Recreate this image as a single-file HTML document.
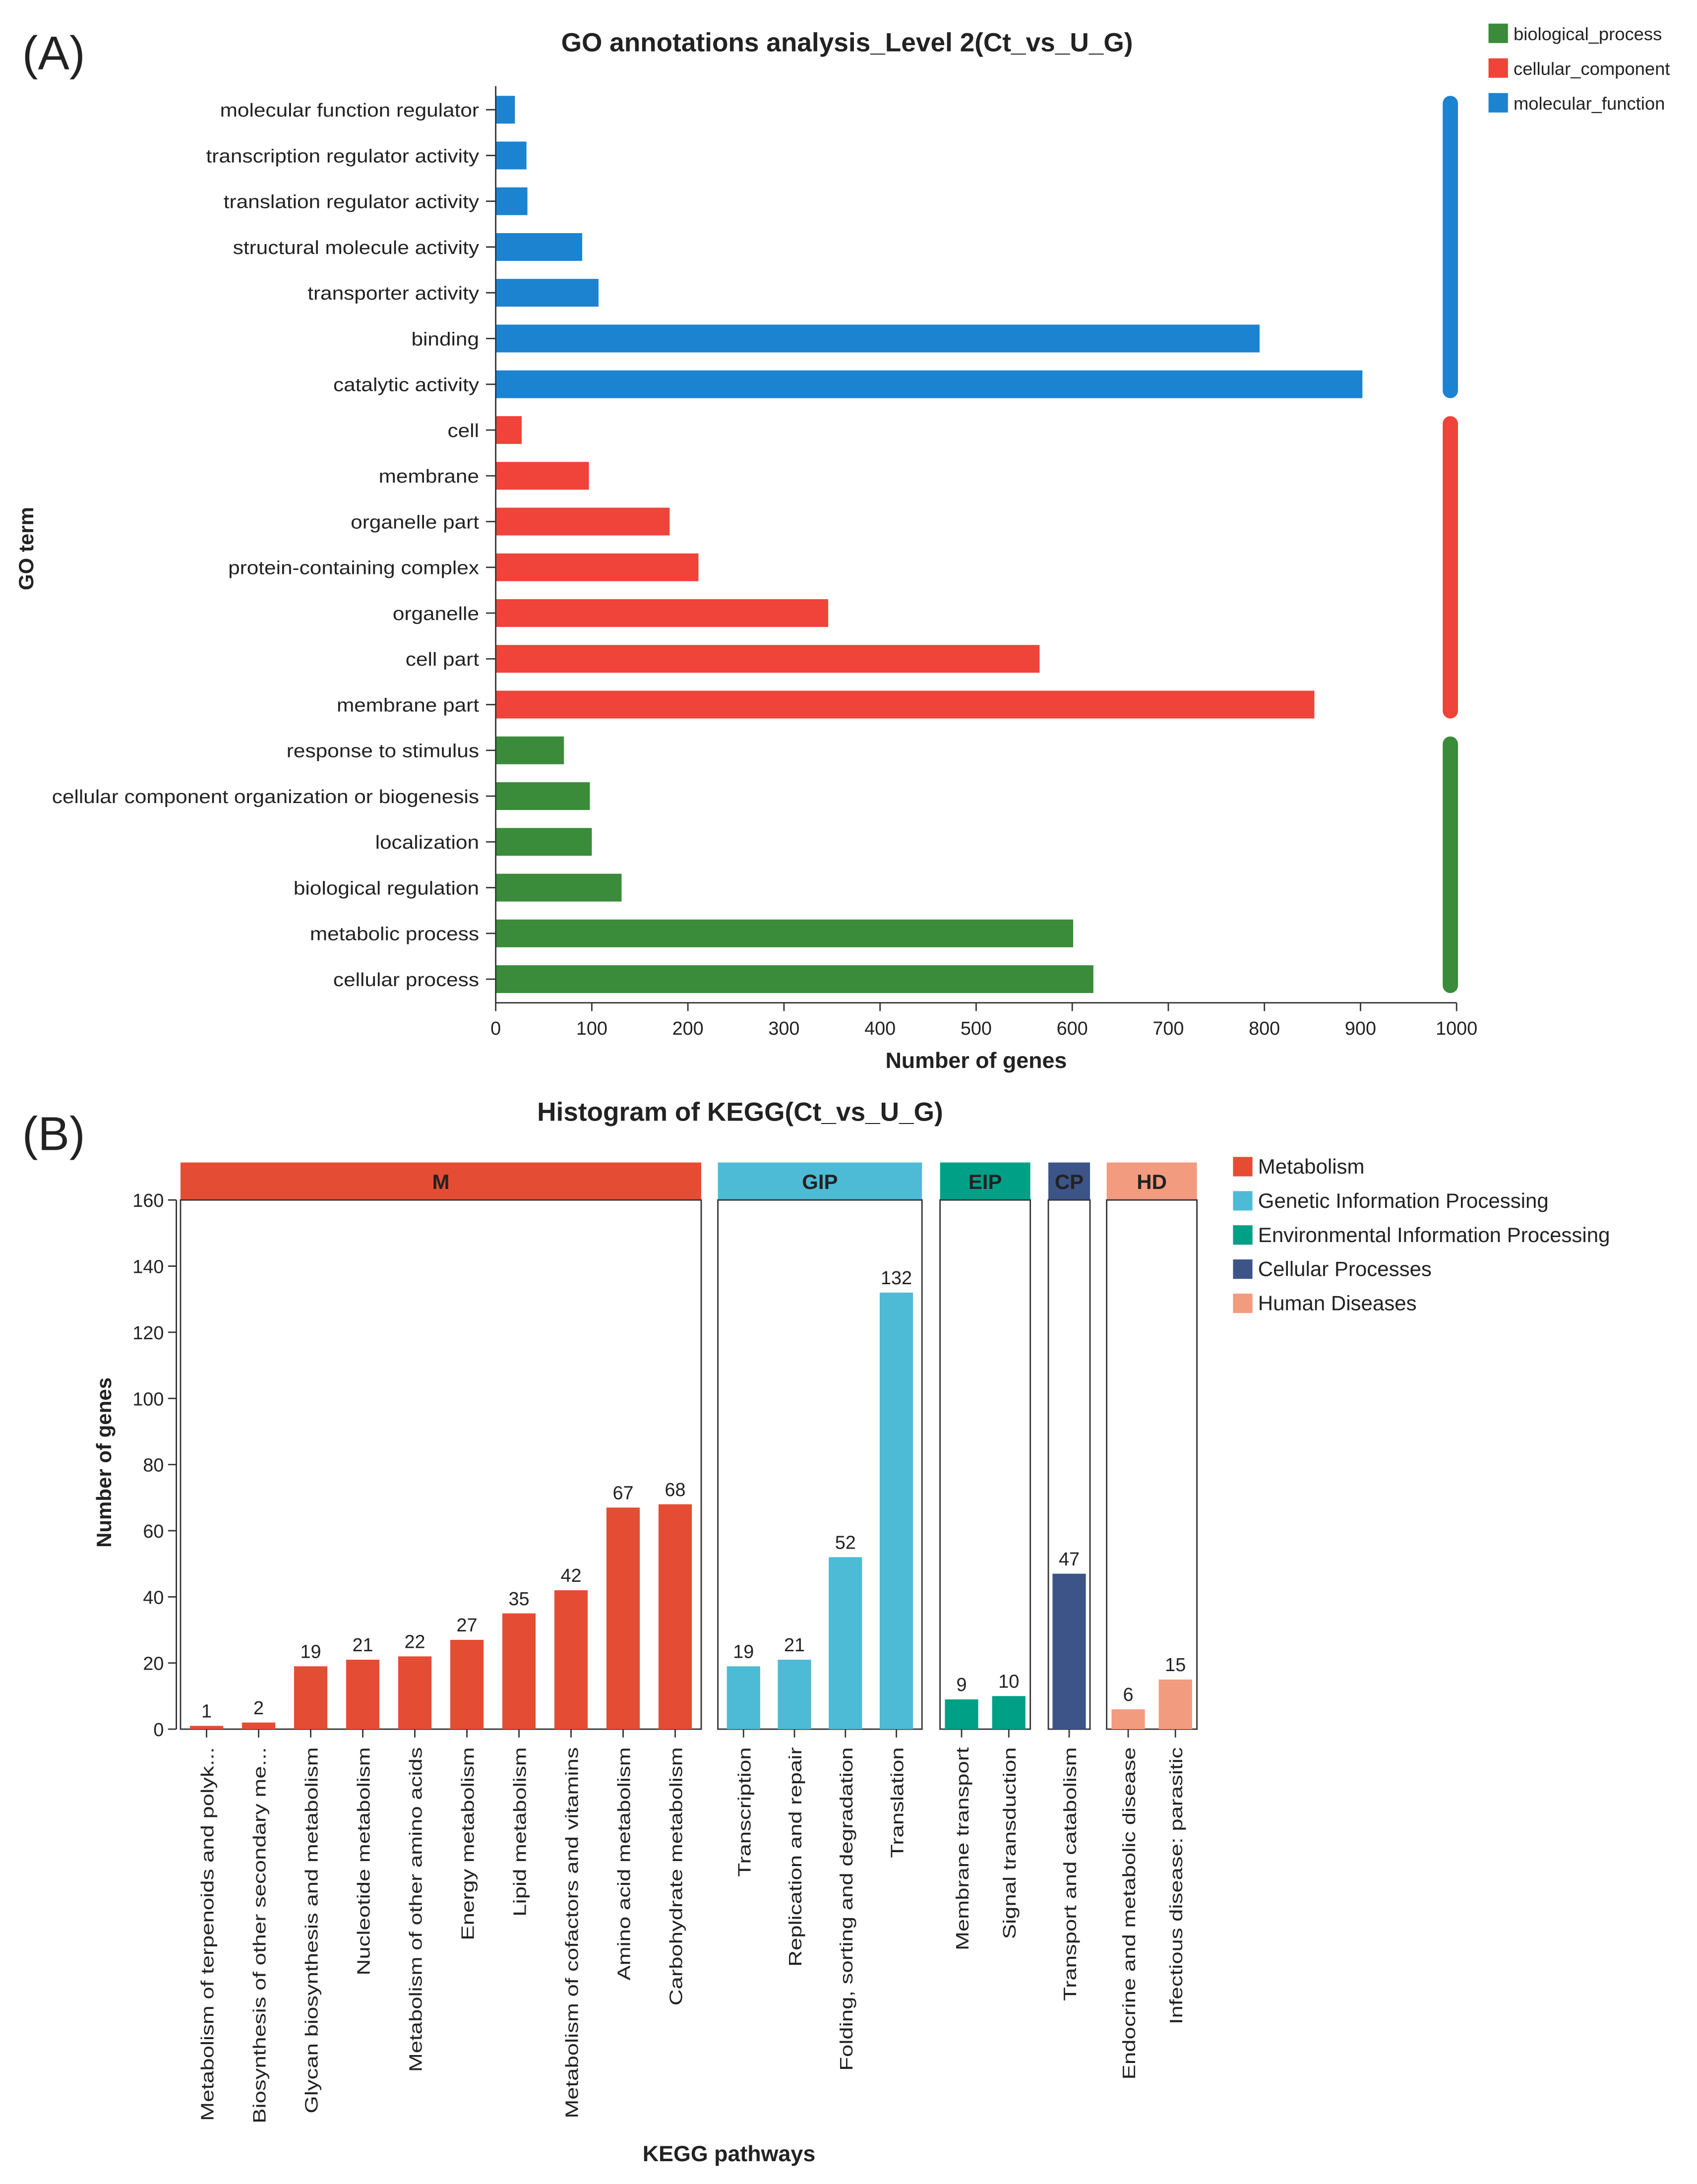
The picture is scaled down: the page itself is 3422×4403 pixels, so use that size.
<!DOCTYPE html>
<html><head><meta charset="utf-8"><style>
html,body{margin:0;padding:0;background:#fff}
svg{display:block}
text{font-family:"Liberation Sans",sans-serif;fill:#222}
</style></head><body>
<svg id="s" width="3422" height="4403" viewBox="0 0 1222.14 1572.5" xmlns="http://www.w3.org/2000/svg">
<text x="16" y="50" font-size="34">(A)</text>
<text x="610" y="37" font-size="19" font-weight="bold" text-anchor="middle">GO annotations analysis_Level 2(Ct_vs_U_G)</text>
<text transform="translate(24,395) rotate(-90)" font-size="15" font-weight="bold" text-anchor="middle">GO term</text>
<text x="703" y="769" font-size="16" font-weight="bold" text-anchor="middle">Number of genes</text>
<g id="goG"></g>
<text x="16" y="828" font-size="34">(B)</text>
<text x="533" y="807" font-size="19" font-weight="bold" text-anchor="middle">Histogram of KEGG(Ct_vs_U_G)</text>
<text transform="translate(80,1053) rotate(-90)" font-size="15" font-weight="bold" text-anchor="middle">Number of genes</text>
<text x="525" y="1556" font-size="16" font-weight="bold" text-anchor="middle">KEGG pathways</text>
<g id="kgG"></g>
</svg>
<script>
const NS="http://www.w3.org/2000/svg";
function mk(p,t,a,txt){const e=document.createElementNS(NS,t);for(const k in a)e.setAttribute(k,a[k]);if(txt!==undefined)e.textContent=txt;p.appendChild(e);return e;}
// GO data
const goTerms=["molecular function regulator","transcription regulator activity","translation regulator activity","structural molecule activity","transporter activity","binding","catalytic activity","cell","membrane","organelle part","protein-containing complex","organelle","cell part","membrane part","response to stimulus","cellular component organization or biogenesis","localization","biological regulation","metabolic process","cellular process"];
const goValues=[20,32,33,90,107,795,902,27,97,181,211,346,566,852,71,98,100,131,601,622];
const goCats=["MF","MF","MF","MF","MF","MF","MF","CC","CC","CC","CC","CC","CC","CC","BP","BP","BP","BP","BP","BP"];
const goTicks=[0,100,200,300,400,500,600,700,800,900,1000];
const goColors={BP:"#3a8b3a",CC:"#f0433a",MF:"#1c83d1"};
const goLegend=[["biological_process","BP"],["cellular_component","CC"],["molecular_function","MF"]];
const g=document.getElementById("goG");
const gx=v=>357+v*(1049-357)/1000;
const gy=i=>79+i*(705-79)/(goTerms.length-1);
goTerms.forEach((t,i)=>{
 let r=mk(g,"rect",{x:gx(0),y:gy(i)-10,width:gx(goValues[i])-gx(0),height:20,fill:goColors[goCats[i]]});
 
 
 let l=mk(g,"text",{transform:`translate(345,${gy(i)+5}) scale(1.12,1)`,"font-size":13.5,"text-anchor":"end"},t);
 
 
 mk(g,"line",{x1:350,x2:357,y1:gy(i),y2:gy(i),stroke:"#333"});
});
mk(g,"line",{x1:357,x2:357,y1:62,y2:722,stroke:"#333"});
mk(g,"line",{x1:357,x2:1049,y1:722,y2:722,stroke:"#333"});
goTicks.forEach(v=>{
 mk(g,"line",{x1:gx(v),x2:gx(v),y1:722,y2:728,stroke:"#333"});
 let t=mk(g,"text",{x:gx(v),y:745,"font-size":13.5,"text-anchor":"middle"},v);
 
 
});
["MF","CC","BP"].forEach(c=>{
 const idx=goCats.map((x,i)=>x===c?i:-1).filter(i=>i>=0);
 const y0=gy(idx[0])-10,y1=gy(idx[idx.length-1])+10;
 let r=mk(g,"rect",{x:1039,y:y0,width:11,height:y1-y0,rx:5.5,fill:goColors[c]});
 
 
});
goLegend.forEach((L,i)=>{
 let r=mk(g,"rect",{x:1072,y:17+i*25,width:14,height:14,fill:goColors[L[1]]});
 
 
 let t=mk(g,"text",{x:1090,y:29+i*25,"font-size":13},L[0]);
 
 
});
// KEGG data
const kgNames=["Metabolism of terpenoids and polyk...","Biosynthesis of other secondary me...","Glycan biosynthesis and metabolism","Nucleotide metabolism","Metabolism of other amino acids","Energy metabolism","Lipid metabolism","Metabolism of cofactors and vitamins","Amino acid metabolism","Carbohydrate metabolism","Transcription","Replication and repair","Folding, sorting and degradation","Translation","Membrane transport","Signal transduction","Transport and catabolism","Endocrine and metabolic disease","Infectious disease: parasitic"];
const kgValues=[1,2,19,21,22,27,35,42,67,68,19,21,52,132,9,10,47,6,15];
const kgGroup=["M","M","M","M","M","M","M","M","M","M","GIP","GIP","GIP","GIP","EIP","EIP","CP","HD","HD"];
const kgTicks=[0,20,40,60,80,100,120,140,160];
const kgColors={M:"#e44d33",GIP:"#4dbbd5",EIP:"#00a087",CP:"#3c5488",HD:"#f39b7f"};
const kgLegend=[["Metabolism","M"],["Genetic Information Processing","GIP"],["Environmental Information Processing","EIP"],["Cellular Processes","CP"],["Human Diseases","HD"]];
const panels={M:[130,505],GIP:[517,664],EIP:[677,742],CP:[755,785],HD:[797,862]};
const k=document.getElementById("kgG");
const ky=v=>1245-v*(1245-864)/160;
for(const p in panels){
 const [a,b]=panels[p];
 let r=mk(k,"rect",{x:a,y:837,width:b-a,height:27,fill:kgColors[p]});
 
 
 let t=mk(k,"text",{x:(a+b)/2,y:856,"font-size":15,"font-weight":"bold","text-anchor":"middle"},p);
 
 
 mk(k,"rect",{x:a,y:864,width:b-a,height:381,fill:"none",stroke:"#333","stroke-width":1});
}
kgNames.forEach((n,i)=>{
 const grp=kgGroup[i];const [a,b]=panels[grp];
 const members=kgGroup.map((x,j)=>x===grp?j:-1).filter(j=>j>=0);
 const pos=members.indexOf(i);const step=grp==="M"?37.5:(grp==="GIP"?36.7:34);
 const span=(members.length-1)*step;const cx=(a+b)/2-span/2+pos*step;
 let r=mk(k,"rect",{x:cx-12,y:ky(kgValues[i]),width:24,height:ky(0)-ky(kgValues[i]),fill:kgColors[grp]});
 
 
 let v=mk(k,"text",{x:cx,y:ky(kgValues[i])-6,"font-size":13.5,"text-anchor":"middle"},kgValues[i]);
 
 
 mk(k,"line",{x1:cx,x2:cx,y1:1245,y2:1251,stroke:"#333"});
 let l=mk(k,"text",{transform:`translate(${cx+5},1258) rotate(-90) scale(1.25,1)`,"font-size":13,"text-anchor":"end"},n);
 
 
});
mk(k,"line",{x1:127,x2:127,y1:864,y2:1245,stroke:"#333"});
kgTicks.forEach(v=>{
 mk(k,"line",{x1:121,x2:127,y1:ky(v),y2:ky(v),stroke:"#333"});
 let t=mk(k,"text",{x:118,y:ky(v)+5,"font-size":13.5,"text-anchor":"end"},v);
 
 
});
kgLegend.forEach((L,i)=>{
 let r=mk(k,"rect",{x:888,y:833+i*24.6,width:14,height:14,fill:kgColors[L[1]]});
 
 
 let t=mk(k,"text",{x:906,y:845+i*24.6,"font-size":15},L[0]);
 
 
});
</script>
</body></html>
